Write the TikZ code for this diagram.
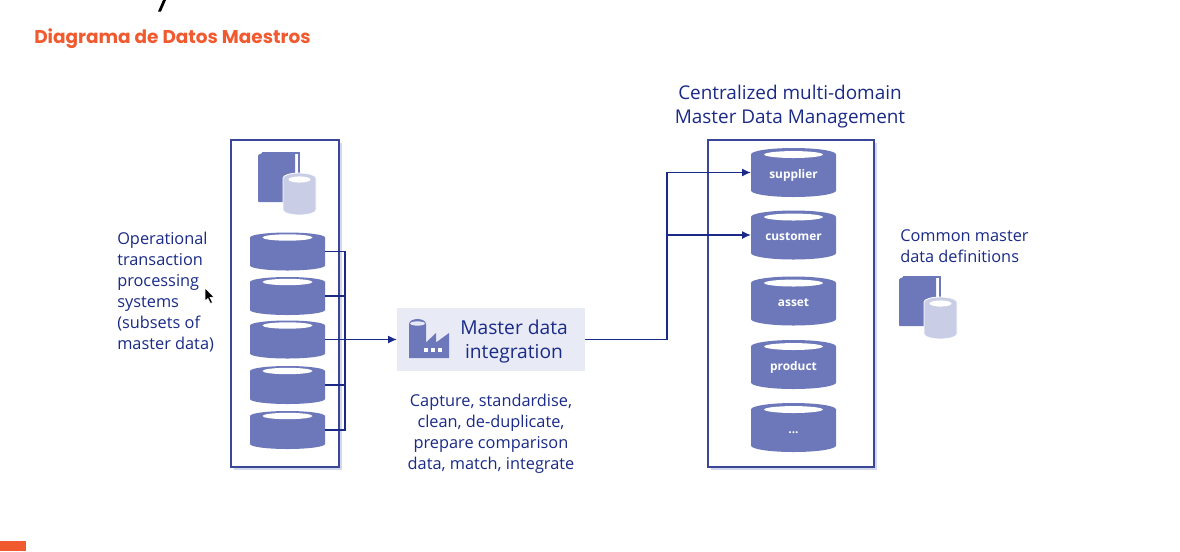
\documentclass[tikz,border=0pt]{standalone}
\usepackage{fontspec}
\setmainfont{Open Sans}
\newfontfamily\titlefont{Poppins}
\usetikzlibrary{arrows.meta, positioning, shadows}
\definecolor{diskblue}{HTML}{6C78BA}
\definecolor{paleblue}{HTML}{C9CEE6}
\definecolor{integfill}{HTML}{E8EBF6}
\definecolor{navy}{HTML}{1A2A86}
\definecolor{boxline}{HTML}{3A4799}
\definecolor{titleorange}{HTML}{F1592F}
\newcommand{\diskshape}[5]{%
	\fill[diskblue] ([yshift=-#2]path picture bounding box.north west) arc[start angle=180, end angle=0, x radius=#1, y radius=#2] -- ([yshift=#2]path picture bounding box.south east) arc[start angle=0, end angle=-180, x radius=#1, y radius=#2] -- cycle;
	\fill[white] ([yshift=-#5]path picture bounding box.north) ellipse (#3 and #4);
}
\tikzset{%
	every disk/.style={
		rectangle,
		text=white,
		inner sep=0pt,
		text height=8.6pt,
		text depth=0pt,
		font=\fontsize{8.9pt}{11pt}\selectfont\bfseries
	},
	small disk/.style={
		every disk,
		minimum width=56.25pt,
		minimum height=28.5pt,
		path picture={\diskshape{28.125pt}{3.75pt}{18.75pt}{2.4pt}{3.75pt}}
	},
	big disk/.style={
		every disk,
		minimum width=63.75pt,
		minimum height=36.75pt,
		path picture={\diskshape{31.875pt}{4.8pt}{22pt}{2.6pt}{4.9pt}}
	},
	system box/.style={
		draw=boxline,
		fill=white,
		line width=0.9pt,
		inner sep=0pt,
		drop shadow={shadow xshift=2.5pt, shadow yshift=-2pt, fill=paleblue, opacity=0.8}
	},
	body text/.style={
		text=navy,
		inner sep=0pt,
		font=\fontsize{12.25pt}{15.75pt}\selectfont
	},
	flow/.style={
		draw=navy,
		line width=0.8pt
	},
	flow arrow/.style={
		flow,
		-{Latex[length=6.5pt, width=6pt]}
	},
	book and disk/.pic={
		\draw[diskblue, line width=0.8pt] (4,-2) -- (41,-2) -- (41,22);
		\fill[diskblue, rounded corners=0.6pt] (0,0) -- (4,-2) -- (37,-2) -- (37,47) -- (0,47) -- cycle;
		\fill[paleblue, draw=white, line width=0.6pt] (25,23) arc[start angle=180, end angle=360, x radius=16.5, y radius=5] -- (58,55) arc[start angle=0, end angle=180, x radius=16.5, y radius=5] -- cycle;
		\fill[white] (41.5,24.5) ellipse (8.25pt and 2.3pt);
	},
}
\begin{document}
\begin{tikzpicture}[x=0.75pt, y=-0.75pt]
	\useasboundingbox (0,0) rectangle (1180,551);
	\fill[black] (158,11.5) -- (161,11.5) -- (166,0) -- (163,0) -- cycle;
	\fill[titleorange] (0,541) rectangle (26,551);
	\node[anchor=west, inner sep=0pt, text=titleorange, font=\fontsize{13.85pt}{18pt}\titlefont\bfseries] (title) at (34,38.5) {Diagrama de Datos Maestros};

	\node[system box, minimum width=81pt, minimum height=245.25pt] (leftbox) at (285,303.5) {};
	\node[system box, minimum width=124.5pt, minimum height=245.25pt] (rightbox) at (791,303.5) {};

	\pic at (258,155) {book and disk};
	\pic at (899,279) {book and disk};

	\node[small disk] (sysa) at (287.5,251.5) {};
	\node[small disk] (sysb) at (287.5,296) {};
	\node[small disk] (sysc) at (287.5,339.5) {};
	\node[small disk] (sysd) at (287.5,385) {};
	\node[small disk] (syse) at (287.5,430) {};

	\node[big disk] (supplier) at (793.5,172.5) {supplier};
	\node[big disk] (customer) at (793.5,235) {customer};
	\node[big disk] (asset) at (793.5,301) {asset};
	\node[big disk] (product) at (793.5,364.5) {product};
	\node[big disk] (more) at (793.5,427.5) {...};

	\node[fill=integfill, minimum width=141pt, minimum height=47.25pt, inner sep=0pt] (integ) at (491,339.5) {};
	\fill[diskblue] (409,324) arc[start angle=180, end angle=360, x radius=8.5, y radius=5] -- (426,342.5) -- (436,333) -- (436,342.5) -- (449,333) -- (449,358) -- (409,358) -- cycle;
	\fill[integfill] (417.5,323.5) ellipse (5.5pt and 1.6pt);
	\fill[white] (424,348) rectangle (428,352);
	\fill[white] (431,348) rectangle (435,352);
	\fill[white] (438,348) rectangle (442,352);

	\node[body text, align=center, font=\fontsize{14.4pt}{18pt}\selectfont] (integlabel) at (514,341.5) {Master data\\integration};
	\node[body text, align=center] (steps) at (491,433.5) {Capture, standardise,\\clean, de-duplicate,\\prepare comparison\\data, match, integrate};
	\node[body text, align=left, anchor=west] (oplabel) at (117,292) {Operational\\transaction\\processing\\systems\\(subsets of\\master data)};
	\node[body text, align=left, anchor=west] (commonlabel) at (900,246.5) {Common master\\data definitions};
	\node[body text, align=center, font=\fontsize{14.2pt}{18pt}\selectfont] (mdmlabel) at (790,107) {Centralized multi-domain\\Master Data Management};

	\coordinate (leftjoin) at (345,339.5);
	\coordinate (rightjoin) at (667,339.5);
	\draw[flow] (sysa.east) -| (leftjoin) (sysb.east) -| (leftjoin) (sysd.east) -| (leftjoin) (syse.east) -| (leftjoin);
	\draw[flow arrow] (sysc.east) -- (integ.west);
	\draw[flow] (integ.east) -- (rightjoin);
	\draw[flow arrow] (rightjoin) |- (supplier.west);
	\draw[flow arrow] (rightjoin) |- (customer.west);

	\draw[fill=black, draw=white, line width=0.5pt] (205,288) -- (205,301) -- (208,298.5) -- (210.5,303.5) -- (212.5,302.5) -- (210,297.5) -- (214,297) -- cycle;
\end{tikzpicture}
\end{document}
